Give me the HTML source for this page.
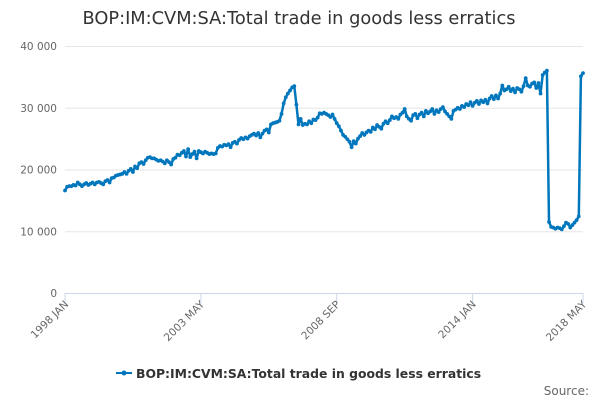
<!DOCTYPE html>
<html><head><meta charset="utf-8"><style>
body{margin:0;width:600px;height:400px;overflow:hidden;background:#fff;font-family:"DejaVu Sans","Liberation Sans",sans-serif}
</style></head><body>
<svg id="chart" width="600" height="400" xmlns="http://www.w3.org/2000/svg" font-family="DejaVu Sans, Liberation Sans, sans-serif">
<text x="299" y="24" text-anchor="middle" font-size="17.8" fill="#333">BOP:IM:CVM:SA:Total trade in goods less erratics</text>
<g id="grid"></g><g id="yt"></g><g id="xt"></g>
<line x1="65" y1="293.5" x2="583" y2="293.5" stroke="#ccd6eb"/>
<path id="series" fill="none" stroke="#0077bd" stroke-width="2.5" stroke-linejoin="round"/>
<g id="pts"></g>
<g>
<line x1="116" y1="373" x2="132" y2="373" stroke="#0077bd" stroke-width="2"/>
<circle cx="124" cy="373" r="2.5" fill="#0077bd"/>
<text x="136" y="378" font-size="12.4" font-weight="bold" fill="#333">BOP:IM:CVM:SA:Total trade in goods less erratics</text>
</g>
<text x="589" y="395" text-anchor="end" font-size="12" fill="#666">Source:</text>
</svg>
<script>
const yTicks=[0,10000,20000,30000,40000];
const yTickLabels=["0","10 000","20 000","30 000","40 000"];
const xTickMonths=[0,64,128,192,244];
const xTickLabels=["1998 JAN","2003 MAY","2008 SEP","2014 JAN","2018 MAY"];
const values=[
16.6,17.2,17.3,17.3,17.5,17.4,17.9,17.6,17.3,17.6,17.8,17.5,
17.7,17.9,17.6,17.9,18.0,17.8,17.6,18.1,18.3,17.9,18.6,18.7,
19.0,19.1,19.2,19.3,19.6,19.3,19.8,20.1,19.6,20.5,20.2,21.0,
21.2,20.9,21.5,21.9,22.0,21.8,21.8,21.6,21.4,21.5,21.3,21.0,
21.5,21.2,20.8,21.7,21.9,22.4,22.3,22.7,23.0,22.1,23.3,22.0,
22.5,22.9,21.8,23.0,22.8,22.6,22.9,22.7,22.5,22.6,22.5,22.6,
23.5,23.8,23.7,24.0,23.9,24.1,23.6,24.3,24.5,24.2,24.8,25.1,
24.9,25.2,25.0,25.4,25.6,25.8,25.5,25.9,25.2,25.8,26.3,26.5,
26.0,27.3,27.5,27.6,27.7,27.9,29.0,30.7,31.7,32.3,32.8,33.3,
33.5,30.5,27.3,28.2,27.2,27.4,27.3,27.8,27.5,28.1,28.0,28.4,
29.1,29.0,29.2,29.0,28.8,28.5,28.9,28.2,27.5,27.0,26.3,25.6,
25.3,24.9,24.5,23.6,24.6,24.2,25.0,25.4,25.9,25.6,26.0,26.3,
26.1,26.8,26.5,27.2,26.9,26.6,27.4,27.8,27.5,28.0,28.6,28.3,
28.5,28.2,28.9,29.2,29.8,28.6,28.2,27.9,28.8,29.0,28.3,28.9,
29.2,28.6,29.5,29.1,29.4,29.8,29.0,29.6,29.3,29.8,30.1,29.4,
29.0,28.6,28.2,29.5,29.7,30.0,29.8,30.3,30.1,30.6,30.4,30.9,
30.3,30.8,31.1,30.6,31.2,30.9,31.3,30.7,31.5,31.9,31.4,32.0,
31.5,32.3,33.6,32.8,33.0,33.4,32.7,33.1,32.5,33.2,33.0,32.6,
33.5,34.8,33.6,33.4,33.9,34.1,33.2,34.0,32.3,35.3,35.7,36.0,
11.5,10.7,10.6,10.4,10.6,10.5,10.3,10.8,11.4,11.2,10.6,11.0,
11.4,11.8,12.4,35.1,35.6];
const NS="http://www.w3.org/2000/svg";
const x=m=>65+m*(518/244);
const y=v=>293-v/40000*247;
const grid=document.getElementById('grid'),yt=document.getElementById('yt'),xt=document.getElementById('xt');
yTicks.forEach((t,i)=>{
 if(i>0){const l=document.createElementNS(NS,'line');
 
 
 l.setAttribute('x1',65);l.setAttribute('x2',583);l.setAttribute('y1',y(t)+.5);l.setAttribute('y2',y(t)+.5);l.setAttribute('stroke','#e6e6e6');grid.appendChild(l);}
 const s=document.createElementNS(NS,'text');
 
 
 s.setAttribute('x',57);s.setAttribute('y',y(t)+4);s.setAttribute('text-anchor','end');s.setAttribute('font-size','10.5');s.setAttribute('fill','#666');s.textContent=yTickLabels[i];yt.appendChild(s);
});
xTickMonths.forEach((m,i)=>{
 const px=x(m);
 const l=document.createElementNS(NS,'line');
 
 
 l.setAttribute('x1',px);l.setAttribute('x2',px);l.setAttribute('y1',293);l.setAttribute('y2',303);l.setAttribute('stroke','#ccd6eb');xt.appendChild(l);
 const s=document.createElementNS(NS,'text');
 
 
 s.setAttribute('transform',`translate(${px+4},${305}) rotate(-45)`);s.setAttribute('text-anchor','end');s.setAttribute('font-size','10.5');s.setAttribute('fill','#666');s.textContent=xTickLabels[i];xt.appendChild(s);
});
let d='';const pts=document.getElementById('pts');
values.forEach((v,i)=>{const px=x(i),py=y(v*1000);d+=(i?'L':'M')+px.toFixed(1)+','+py.toFixed(1);
 const c=document.createElementNS(NS,'circle');
 
 
 c.setAttribute('cx',px);c.setAttribute('cy',py);c.setAttribute('r',1.9);c.setAttribute('fill','#0077bd');pts.appendChild(c);});
document.getElementById('series').setAttribute('d',d);
</script>
</body></html>
